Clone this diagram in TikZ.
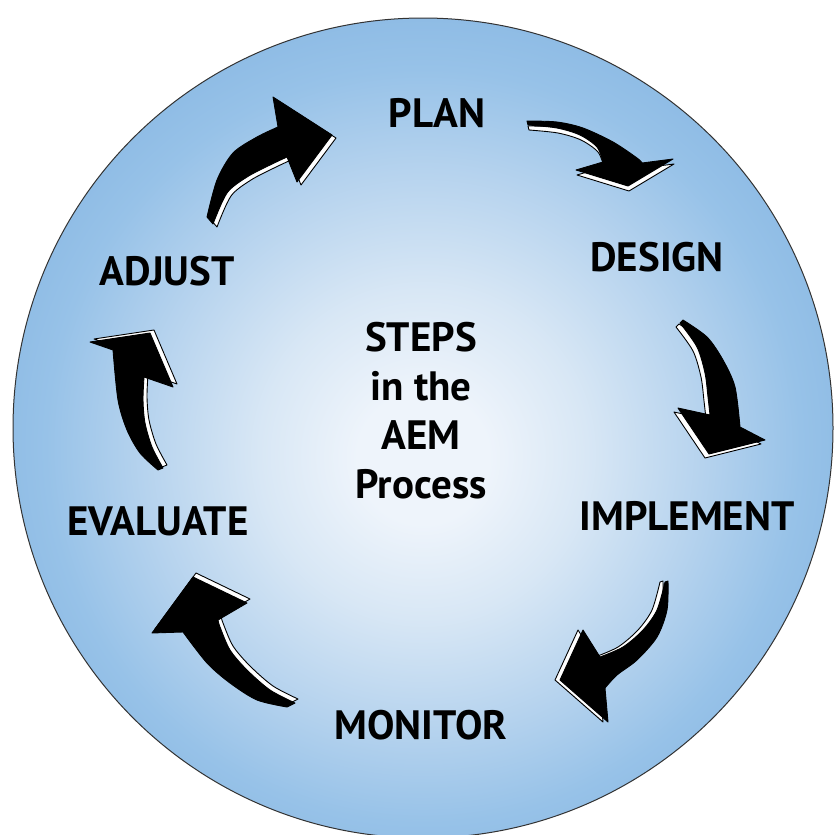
\documentclass[tikz,border=0pt]{standalone}
\usepackage{fontspec}
\setmainfont{PT Sans}
\definecolor{cA}{HTML}{EEF4FB}
\definecolor{cB}{HTML}{D8E7F5}
\definecolor{cC}{HTML}{B6D3EE}
\definecolor{cD}{HTML}{97C2E8}
\definecolor{cE}{HTML}{8CBAE4}
\pgfdeclareradialshading{aemshade}{\pgfpoint{0bp}{-2bp}}{color(0bp)=(cA); color(4bp)=(cA); color(10bp)=(cB); color(17bp)=(cC); color(23bp)=(cD); color(27bp)=(cE); color(50bp)=(cE)}
\tikzset{
  lbl/.style={font=\fontsize{41}{49}\selectfont\bfseries, anchor=base, inner sep=0pt},
  bevel/.style={fill=white, draw=black, line width=0.9pt, line join=round},
  arrowbody/.style={fill=black, draw=black, line width=0.9pt, line join=round}
}
\newcommand{\aemarrow}[2]{\filldraw[bevel,shift={#1}] #2; \filldraw[arrowbody] #2;}
\begin{document}
\begin{tikzpicture}[x=1pt,y=-1pt]
\useasboundingbox (0,0) rectangle (834,835);
\shade[shading=aemshade] (423,428) circle (410);
\draw[black!80, line width=1pt] (423,428) circle (410);

% arrows
\aemarrow{(4,3)}{plot[smooth] coordinates {(207,217) (217,180) (233,153) (257,137) (278,127)} -- (273,97) -- (332,135) -- (297,182) -- plot[smooth] coordinates {(287,157) (270,165) (247,177) (227,193) (213,224)} -- cycle}
\aemarrow{(1,5)}{plot[smooth] coordinates {(527,121) (557,122) (583,128) (613,142) (637,158) (642,163)} -- (673,159) -- (628,186) -- (576,170) -- plot[smooth] coordinates {(603,162) (597,147) (580,135) (557,128) (528,125)} -- cycle}
\aemarrow{(-4,4)}{plot[smooth] coordinates {(683,320) (707,337) (723,360) (735,387) (740,427)} -- (765,440) -- (709,454) -- (678,408) -- plot[smooth] coordinates {(710,415) (708,397) (705,373) (697,347) (680,323)} -- cycle}
\aemarrow{(-5,0)}{plot[smooth] coordinates {(668,581) (667,610) (657,637) (637,660) (617,675) (605,688)} -- (608,722) -- (560,680) -- (583,630) -- plot[smooth] coordinates {(600,657) (623,647) (643,630) (657,610) (665,582)} -- cycle}
\aemarrow{(3,-4)}{plot[smooth] coordinates {(295,703) (270,690) (247,670) (230,650) (220,627) (218,620)} -- (247,603) -- (193,577) -- (152,633) -- plot[smooth] coordinates {(183,632) (207,663) (230,683) (257,700) (287,707)} -- cycle}
\aemarrow{(4,-3)}{plot[smooth] coordinates {(163,468) (152,447) (145,423) (143,400) (144,377)} -- (173,387) -- (150,333) -- (90,342) -- plot[smooth] coordinates {(113,350) (118,400) (127,430) (140,453) (158,470)} -- cycle}

% labels
\node[lbl] (plan) at (437,127) {PLAN};
\node[lbl] (design) at (657,271) {DESIGN};
\node[lbl] (implement) at (687,530) {IMPLEMENT};
\node[lbl] (monitor) at (421,739) {MONITOR};
\node[lbl] (evaluate) at (158,535) {EVALUATE};
\node[lbl] (adjust) at (167,285) {ADJUST};
\node[lbl, anchor=north, align=center] (steps) at (421,322) {STEPS\\in the\\AEM\\Process};
\end{tikzpicture}
\end{document}
